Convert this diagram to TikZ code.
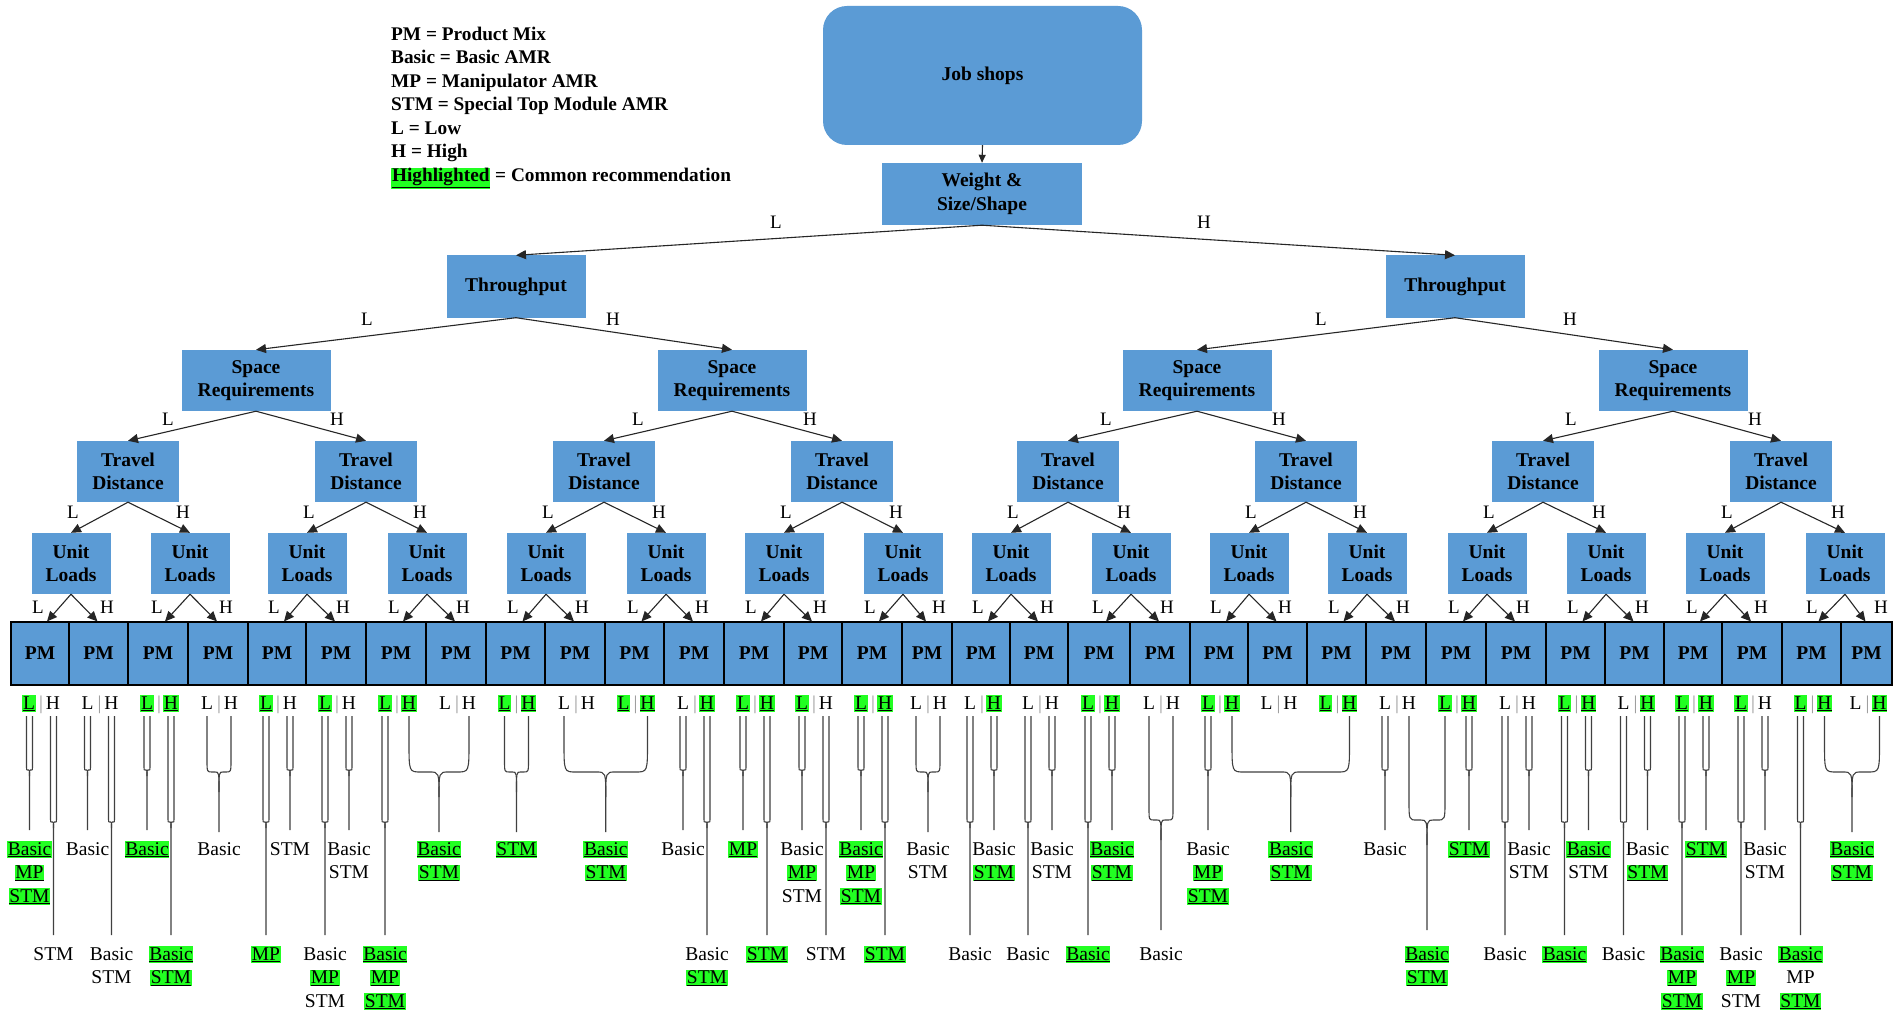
\documentclass[tikz,border=0pt]{standalone}
\usepackage{fontspec}
\setmainfont{Liberation Serif}
\usetikzlibrary{arrows.meta,calc}
\definecolor{boxblue}{HTML}{5B9BD5}
\definecolor{hlgreen}{HTML}{22FF22}
% highlighted (common) recommendation: green background + underline
\newcommand{\hl}[1]{{\setlength{\fboxsep}{0.8pt}\colorbox{hlgreen}{\underline{#1}}}}
\newcounter{rn}
\tikzset{
  box/.style={fill=boxblue, inner sep=0pt, align=center, font=\fontsize{19.5}{23.5}\selectfont\bfseries},
  pmbox/.style={box, draw=black, line width=1.1pt, minimum height=63pt},
  arr/.style={draw=black!85, line width=1.1pt, -{Triangle[length=10pt,width=9pt]}},
  elab/.style={font=\fontsize{19}{22}\selectfont, inner sep=0pt},
  lh/.style={font=\fontsize{19.5}{23}\selectfont, inner sep=0pt, anchor=base},
  rt/.style={font=\fontsize{19.5}{23}\selectfont, inner sep=0pt, anchor=base},
  fk/.style={draw=black!75, line width=1.1pt},
  leg/.style={font=\fontsize{19.3}{23}\selectfont\bfseries, inner sep=0pt, anchor=base west},
}
% brace / fork joining outcomes: xl, xr, y of bend, y of stem end, bend radius, cusp drop
\newcommand{\brc}[6]{%
  \pgfmathsetmacro{\bcx}{(#1+#2)/2}
  \draw[fk] ({#1},716) -- ({#1},{#3-2.5*#5}) .. controls ({#1},#3) .. ({#1+#5},#3)
     -- ({\bcx-0.8*#5},#3) .. controls (\bcx,#3) .. (\bcx,{#3+#6}) -- (\bcx,#4);
  \draw[fk] ({#2},716) -- ({#2},{#3-2.5*#5}) .. controls ({#2},#3) .. ({#2-#5},#3)
     -- ({\bcx+0.8*#5},#3) .. controls (\bcx,#3) .. (\bcx,{#3+#6});
}
\newcommand{\fkS}[1]{\brc{#1-3}{#1+3}{770}{830}{1.2}{6}}
\newcommand{\fkL}[1]{\brc{#1-3}{#1+3}{822}{935}{1.2}{6}}
\newcommand{\rline}[3]{\stepcounter{rn}\node[rt] (res\arabic{rn}) at (#1,#2) {#3};}
\newcommand{\res}[3]{%
  \foreach \rtxt [count=\rj from 0] in {#3} {\rline{#1}{#2+23.5*\rj}{\rtxt}}
}
% L | H labels under a PM box: index, centre, L highlighted, H highlighted
\newcommand{\lhl}[4]{%
  \node[lh] (lab#1l) at ({#2-11},709) {\ifnum#3=1 \hl{L}\else L\fi};
  \node[lh, text=black!40] (lab#1s) at ({#2+1},709) {|};
  \node[lh] (lab#1h) at ({#2+13},709) {\ifnum#4=1 \hl{H}\else H\fi};
}
\begin{document}
\begin{tikzpicture}[x=1pt,y=-1pt]
\fill[white] (0,0) rectangle (1899,1011);
\useasboundingbox (0,0) rectangle (1899,1011);

% legend
\node[leg] (lg1) at (391,40.5) {PM = Product Mix};
\node[leg] (lg2) at (391,64) {Basic = Basic AMR};
\node[leg] (lg3) at (391,87.5) {MP = Manipulator AMR};
\node[leg] (lg4) at (391,111) {STM = Special Top Module AMR};
\node[leg] (lg5) at (391,134.5) {L = Low};
\node[leg] (lg6) at (391,158) {H = High};
\node[leg] (lg7) at (391,182) {\hl{Highlighted} = Common recommendation};

% decision levels
\node[box, rounded corners=24pt, minimum width=319pt, minimum height=139pt] (job) at (982.5,75.5) {Job shops};
\node[box, minimum width=200pt, minimum height=62pt] (wgt) at (982,194) {Weight \&\\Size/Shape};
\node[box, minimum width=139pt, minimum height=62pt] (thL) at (516,286.5) {Throughput};
\node[box, minimum width=139pt, minimum height=62pt] (thR) at (1455,286.5) {Throughput};
\foreach \x [count=\k] in {256,732,1197,1673}
  \node[box, minimum width=149pt, minimum height=61pt] (sp\k) at (\x,380.5) {Space\\Requirements};
\foreach \x [count=\k] in {128,366,604,842,1068,1306,1543,1781}
  \node[box, minimum width=102pt, minimum height=61pt] (tr\k) at (\x,471.5) {Travel\\Distance};
\foreach \x [count=\k] in {71,190,307,427,546,666,784,903,1011,1131,1249,1367,1487,1606,1725,1845}
  \node[box, minimum width=79pt, minimum height=61pt] (ul\k) at (\x,563.5) {Unit\\Loads};

% product mix row
\foreach \a/\b [count=\i] in {11/69,69/128,128/188,188/248,248/306,306/366,366/426,426/486,486/545,545/605,605/664,664/724,724/784,784/842,842/902,902/952,952/1010,1010/1068,1068/1130,1130/1190,1190/1248,1248/1307,1307/1366,1366/1426,1426/1486,1486/1546,1546/1605,1605/1664,1664/1722,1722/1782,1782/1841,1841/1892}
  \node[pmbox, minimum width={\b-\a}] (pm\i) at ({(\a+\b)/2},653.5) {PM};
\draw[line width=2.2pt] (11,622) rectangle (1892,685);

% connectors
\draw[arr, -{Triangle[length=8pt,width=7pt]}] (job.south) -- (wgt.north);
\draw[arr] (wgt.south) -- (thL.north);
\draw[arr] (wgt.south) -- (thR.north);
\draw[arr] (thL.south) -- (sp1.north);
\draw[arr] (thL.south) -- (sp2.north);
\draw[arr] (thR.south) -- (sp3.north);
\draw[arr] (thR.south) -- (sp4.north);
\foreach \k in {1,...,4} {
  \pgfmathtruncatemacro\pa{2*\k-1}\pgfmathtruncatemacro\pb{2*\k}
  \draw[arr] (sp\k.south) -- (tr\pa.north);
  \draw[arr] (sp\k.south) -- (tr\pb.north);
}
\foreach \k in {1,...,8} {
  \pgfmathtruncatemacro\pa{2*\k-1}\pgfmathtruncatemacro\pb{2*\k}
  \draw[arr] (tr\k.south) -- (ul\pa.north);
  \draw[arr] (tr\k.south) -- (ul\pb.north);
}
\foreach \k in {1,...,16} {
  \pgfmathtruncatemacro\pa{2*\k-1}\pgfmathtruncatemacro\pb{2*\k}
  \draw[arr] (ul\k.south) -- ([xshift=7pt]pm\pa.north);
  \draw[arr] (ul\k.south) -- ([xshift=-1pt]pm\pb.north);
}

% branch labels
\node[elab] (wl) at (776,222) {L};
\node[elab] (wh) at (1204,222) {H};
\node[elab] (t1l) at (367,319) {L};
\node[elab] (t1h) at (613,319) {H};
\node[elab] (t2l) at (1321,319) {L};
\node[elab] (t2h) at (1570,319) {H};
\foreach \x [count=\k] in {168,638,1106,1571} \node[elab] (sl\k) at (\x,419) {L};
\foreach \x [count=\k] in {337,810,1279,1755} \node[elab] (sh\k) at (\x,419) {H};
\foreach \x [count=\k] in {71,307,546,784,1011,1249,1487,1725} \node[elab] (tl\k) at (\x+2,512) {L};
\foreach \x [count=\k] in {190,427,666,903,1131,1367,1606,1845} \node[elab] (th\k) at (\x-7,512) {H};
\foreach \x [count=\k] in {71,190,307,427,546,666,784,903,1011,1131,1249,1367,1487,1606,1725,1845} {
  \node[elab] (ql\k) at (\x-33,607) {L};
  \node[elab] (qh\k) at (\x+36,607) {H};
}

% L | H under each product mix
\lhl{1}{40}{1}{0}      \lhl{2}{98.5}{0}{0}    \lhl{3}{158}{1}{1}     \lhl{4}{218}{0}{0}
\lhl{5}{277}{1}{0}     \lhl{6}{336}{1}{0}     \lhl{7}{396}{1}{1}     \lhl{8}{456}{0}{0}
\lhl{9}{515.5}{1}{1}   \lhl{10}{575}{0}{0}    \lhl{11}{634.5}{1}{1}  \lhl{12}{694}{0}{1}
\lhl{13}{754}{1}{1}    \lhl{14}{813}{1}{0}    \lhl{15}{872}{1}{1}    \lhl{16}{927}{0}{0}
\lhl{17}{981}{0}{1}    \lhl{18}{1039}{0}{0}   \lhl{19}{1099}{1}{1}   \lhl{20}{1160}{0}{0}
\lhl{21}{1219}{1}{1}   \lhl{22}{1277.5}{0}{0} \lhl{23}{1336.5}{1}{1} \lhl{24}{1396}{0}{0}
\lhl{25}{1456}{1}{1}   \lhl{26}{1516}{0}{0}   \lhl{27}{1575.5}{1}{1} \lhl{28}{1634.5}{0}{1}
\lhl{29}{1693}{1}{1}   \lhl{30}{1752}{1}{0}   \lhl{31}{1811.5}{1}{1} \lhl{32}{1866.5}{0}{1}

% short forks
\foreach \x in {29.5,87.5,147,290,349,683,743,802,861,994,1052,1112,1208,1385,1469,1529,1588.5,1647.5,1706,1765}
  {\fkS{\x}}
% long forks
\foreach \x in {53.5,111.5,171,266,325,385,707,767,826,885,970,1028,1088,1505,1564.5,1623.5,1682,1741,1800.5}
  {\fkL{\x}}
% braces joining several outcomes
\brc{207}{231}{772}{832}{5}{20}
\brc{409}{469}{772}{832}{12}{25}
\brc{504.5}{528.5}{772}{832}{5}{20}
\brc{564}{647.5}{772}{832}{12}{25}
\brc{916}{940}{772}{832}{5}{20}
\brc{1149}{1173}{820}{930}{5}{20}
\brc{1232}{1349.5}{772}{832}{12}{25}
\brc{1409}{1445}{820}{930}{8}{25}
\brc{1824.5}{1879.5}{772}{832}{12}{25}

% recommended AMR types
\res{29.5}{855}{\hl{Basic},\hl{MP},\hl{STM}}
\res{53.5}{960}{STM}
\res{87.5}{855}{Basic}
\res{111.5}{960}{Basic,STM}
\res{147}{855}{\hl{Basic}}
\res{171}{960}{\hl{Basic},\hl{STM}}
\res{219}{855}{Basic}
\res{266}{960}{\hl{MP}}
\res{290}{855}{STM}
\res{325}{960}{Basic,\hl{MP},STM}
\res{349}{855}{Basic,STM}
\res{385}{960}{\hl{Basic},\hl{MP},\hl{STM}}
\res{439}{855}{\hl{Basic},\hl{STM}}
\res{516.5}{855}{\hl{STM}}
\res{605.75}{855}{\hl{Basic},\hl{STM}}
\res{683}{855}{Basic}
\res{707}{960}{Basic,\hl{STM}}
\res{743}{855}{\hl{MP}}
\res{767}{960}{\hl{STM}}
\res{802}{855}{Basic,\hl{MP},STM}
\res{826}{960}{STM}
\res{861}{855}{\hl{Basic},\hl{MP},\hl{STM}}
\res{885}{960}{\hl{STM}}
\res{928}{855}{Basic,STM}
\res{970}{960}{Basic}
\res{994}{855}{Basic,\hl{STM}}
\res{1028}{960}{Basic}
\res{1052}{855}{Basic,STM}
\res{1088}{960}{\hl{Basic}}
\res{1112}{855}{\hl{Basic},\hl{STM}}
\res{1161}{960}{Basic}
\res{1208}{855}{Basic,\hl{MP},\hl{STM}}
\res{1290.75}{855}{\hl{Basic},\hl{STM}}
\res{1385}{855}{Basic}
\res{1427}{960}{\hl{Basic},\hl{STM}}
\res{1469}{855}{\hl{STM}}
\res{1505}{960}{Basic}
\res{1529}{855}{Basic,STM}
\res{1564.5}{960}{\hl{Basic}}
\res{1588.5}{855}{\hl{Basic},STM}
\res{1623.5}{960}{Basic}
\res{1647.5}{855}{Basic,\hl{STM}}
\res{1682}{960}{\hl{Basic},\hl{MP},\hl{STM}}
\res{1706}{855}{\hl{STM}}
\res{1741}{960}{Basic,\hl{MP},STM}
\res{1765}{855}{Basic,STM}
\res{1800.5}{960}{\hl{Basic},MP,\hl{STM}}
\res{1852}{855}{\hl{Basic},\hl{STM}}
\end{tikzpicture}
\end{document}
